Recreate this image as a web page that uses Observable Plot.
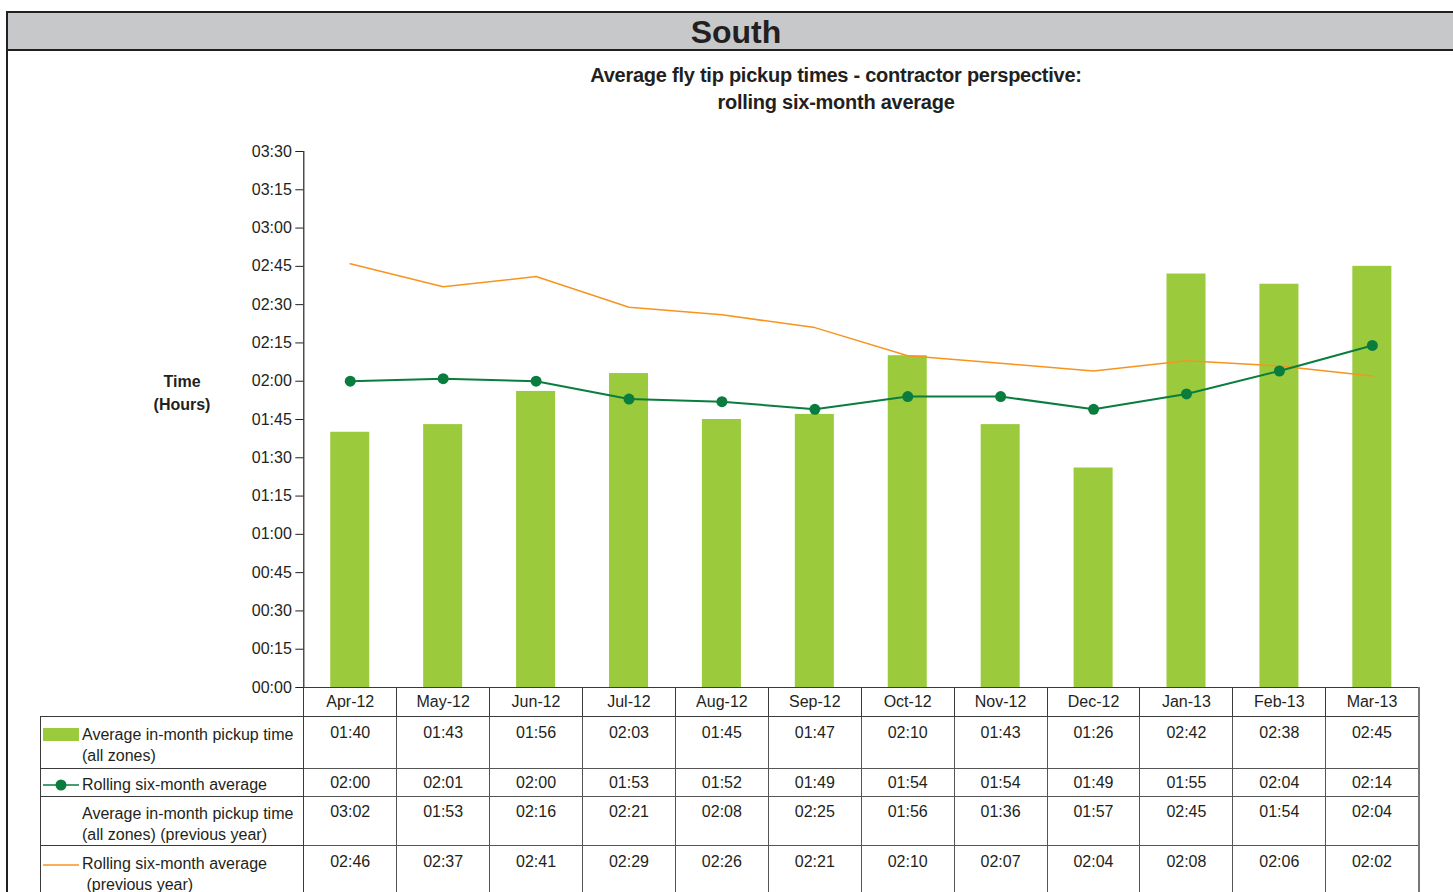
<!DOCTYPE html>
<html>
<head>
<meta charset="utf-8">
<script src="https://cdn.jsdelivr.net/npm/d3@7"></script>
<script src="https://cdn.jsdelivr.net/npm/@observablehq/plot@0.6"></script>
<style>
  html, body { margin: 0; padding: 0; background: #fff; overflow: hidden; }
  body { width: 1453px; height: 892px; position: relative; font-family: "Liberation Sans", Arial, sans-serif; color: #231f20; }
  #frame { position: absolute; left: 6px; top: 11px; width: 1460px; height: 900px; border: 2.5px solid #231f20; box-sizing: border-box; }
  #band { position: absolute; left: 0; top: 0; right: 0; height: 36px; background: #c7c8ca; border-bottom: 2.5px solid #231f20; text-align: center; font-weight: bold; font-size: 32px; line-height: 38px; }
  #title { position: absolute; left: 486px; width: 700px; top: 62px; text-align: center; font-weight: bold; font-size: 20px; line-height: 27px; letter-spacing: -0.25px; }
  #ylabel { position: absolute; left: 132px; width: 100px; top: 370px; text-align: center; font-weight: bold; font-size: 16px; line-height: 23px; }
  #chart { position: absolute; left: 0; top: 0; }
  #tbl { position: absolute; left: 40px; top: 687px; border-collapse: collapse; table-layout: fixed; font-size: 16px; }
  #tbl td { border: 1.5px solid #3a3a3a; padding: 0; text-align: center; vertical-align: top; white-space: nowrap; }
  #tbl td.val { border-color: #555; }
  #tbl tr.head td { vertical-align: middle; height: 28px; }
  #tbl tr.head td.blank { border-left: none; border-top: none; }
  #tbl td.lab { text-align: left; }
  .lab .row { display: flex; align-items: flex-start; }
  .sw { width: 36px; flex: none; margin: 0 3px 0 2px; }
  .txt { line-height: 21px; }
  #tbl td.rightcol { border-right: 2px solid #777; }
</style>
</head>
<body>
<div id="frame"><div id="band">South</div></div>
<div id="title">Average fly tip pickup times - contractor perspective:<br>rolling six-month average</div>
<div id="ylabel">Time<br>(Hours)</div>
<div id="chart"></div>
<table id="tbl"></table>
<script>
const months = ["Apr-12","May-12","Jun-12","Jul-12","Aug-12","Sep-12","Oct-12","Nov-12","Dec-12","Jan-13","Feb-13","Mar-13"];
const inMonth = ["01:40","01:43","01:56","02:03","01:45","01:47","02:10","01:43","01:26","02:42","02:38","02:45"];
const rolling = ["02:00","02:01","02:00","01:53","01:52","01:49","01:54","01:54","01:49","01:55","02:04","02:14"];
const inMonthPrev = ["03:02","01:53","02:16","02:21","02:08","02:25","01:56","01:36","01:57","02:45","01:54","02:04"];
const rollingPrev = ["02:46","02:37","02:41","02:29","02:26","02:21","02:10","02:07","02:04","02:08","02:06","02:02"];
const seriesLabels = [
  "Average in-month pickup time<br>(all zones)",
  "Rolling six-month average",
  "Average in-month pickup time<br>(all zones) (previous year)",
  "Rolling six-month average<br>&nbsp;(previous year)"
];
const yTicks = d3.range(0, 211, 15);

const toMin = s => { const [h, m] = s.split(":").map(Number); return h * 60 + m; };
const fmt = v => String(Math.floor(v / 60)).padStart(2, "0") + ":" + String(v % 60).padStart(2, "0");

const data = months.map((m, i) => ({
  month: m,
  bar: toMin(inMonth[i]),
  roll: toMin(rolling[i]),
  prev: toMin(rollingPrev[i])
}));

const BAR = "#9bcb3c", GREEN = "#0a7d3e", ORANGE = "#f7941d", INK = "#231f20";

const chart = Plot.plot({
  width: 1453,
  height: 700,
  marginLeft: 303.3,
  marginRight: 34.7,
  marginTop: 151,
  marginBottom: 13,
  style: { fontFamily: "'Liberation Sans', Arial, sans-serif", fontSize: "16px", color: INK, background: "transparent", overflow: "visible" },
  x: { type: "band", domain: months, paddingInner: 0.58, paddingOuter: 0.29, round: false, axis: null },
  y: { domain: [0, 210], axis: null },
  marks: [
    Plot.barY(data, { x: "month", y: "bar", fill: BAR }),
    Plot.line(data, { x: "month", y: "prev", stroke: ORANGE, strokeWidth: 1.5 }),
    Plot.line(data, { x: "month", y: "roll", stroke: GREEN, strokeWidth: 2 }),
    Plot.dot(data, { x: "month", y: "roll", fill: GREEN, r: 5.5 }),
    Plot.axisY({ ticks: yTicks, tickFormat: fmt, tickSize: 8, tickPadding: 4, fontSize: 16, label: null, stroke: INK, fill: INK }),
    Plot.frame({ anchor: "left", stroke: INK, strokeWidth: 1.2 }),
    Plot.ruleY([0], { stroke: INK, strokeWidth: 1.2 })
  ]
});
document.getElementById("chart").appendChild(chart);

// data table below the plot
const tbl = document.getElementById("tbl");
const colW = (1418.3 - 303.3) / months.length;
const cg = document.createElement("colgroup");
cg.innerHTML = `<col style="width:263.3px">` + months.map(() => `<col style="width:${colW}px">`).join("");
tbl.appendChild(cg);

const head = document.createElement("tr");
head.className = "head";
head.innerHTML = `<td class="blank"></td>` + months.map((m, i) => `<td class="${i === months.length - 1 ? "rightcol" : ""}">${m}</td>`).join("");
tbl.appendChild(head);

const swatches = [
  `<svg class="sw" width="36" height="14" style="margin-top:4px"><rect x="0" y="0" width="36" height="13" fill="${BAR}"/></svg>`,
  `<svg class="sw" width="36" height="14" style="margin-top:4px"><line x1="0" x2="36" y1="7" y2="7" stroke="${GREEN}" stroke-width="1.5"/><circle cx="18" cy="7" r="5.5" fill="${GREEN}"/></svg>`,
  `<svg class="sw" width="36" height="14"></svg>`,
  `<svg class="sw" width="36" height="14" style="margin-top:5px"><line x1="0" x2="36" y1="7" y2="7" stroke="${ORANGE}" stroke-width="1.5"/></svg>`
];
const rows = [inMonth, rolling, inMonthPrev, rollingPrev];
const heights = [52, 28, 49, 52];
const pads = [5, 3, 3.5, 4.5];
rows.forEach((vals, r) => {
  const tr = document.createElement("tr");
  tr.style.height = heights[r] + "px";
  let html = `<td class="lab" style="padding-top:${pads[r] + 2}px"><div class="row">${swatches[r]}<div class="txt">${seriesLabels[r]}</div></div></td>`;
  html += vals.map((v, i) => `<td class="val ${i === vals.length - 1 ? "rightcol" : ""}" style="padding-top:${pads[r]}px"><div class="txt">${v}</div></td>`).join("");
  tr.innerHTML = html;
  tbl.appendChild(tr);
});
</script>
</body>
</html>
